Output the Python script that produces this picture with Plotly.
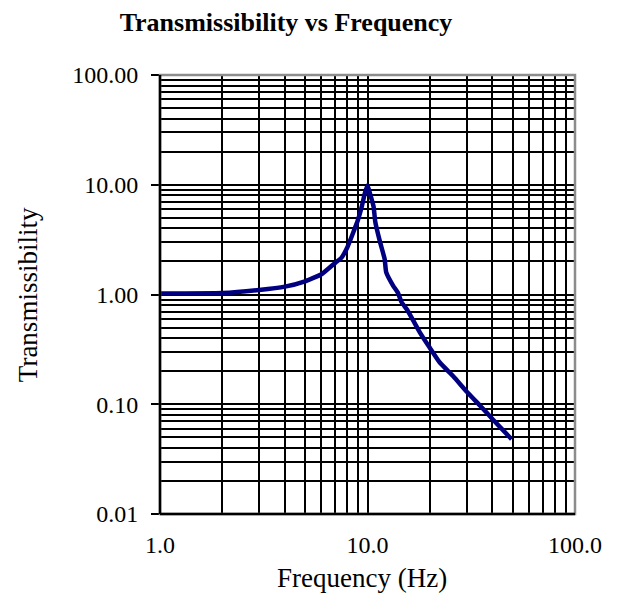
import plotly.graph_objects as go

# Data
freq_hz = [1.0, 2.0, 3.0, 4.0, 5.0, 6.0, 7.0, 7.5, 8.0, 8.5, 9.0, 9.4, 9.7, 10.0,
           10.3, 10.7, 10.9, 11.5, 12.1, 12.3, 13.3, 14.0, 14.6, 15.5, 16.6,
           17.9, 19.9, 22.3, 25.9, 30.1, 34.9, 40.4, 49.5]
transmissibility = [1.02, 1.03, 1.10, 1.18, 1.32, 1.53, 1.95, 2.17, 2.7, 3.6, 4.8, 6.4,
                    8.3, 9.9, 8.2, 6.3, 4.6, 3.0, 2.1, 1.6, 1.2, 1.04, 0.85, 0.73,
                    0.58, 0.45, 0.33, 0.24, 0.18, 0.13, 0.097, 0.072, 0.048]

x_major = [1, 10, 100]
x_major_text = ["1.0", "10.0", "100.0"]
y_major = [0.01, 0.1, 1, 10, 100]
y_major_text = ["0.01", "0.10", "1.00", "10.00", "100.00"]
x_minor = [m * d for d in [1, 10] for m in range(2, 10)]
y_minor = [m * d for d in [0.01, 0.1, 1, 10] for m in range(2, 10)]

FONT = "Liberation Serif, Times New Roman, serif"

fig = go.Figure()
fig.add_trace(go.Scatter(x=freq_hz, y=transmissibility, mode="lines",
                         line=dict(color="#000080", width=4.5, shape="spline", smoothing=0.4),
                         showlegend=False, hoverinfo="skip"))

fig.update_layout(
    width=624, height=594,
    margin=dict(l=160, r=49, t=75, b=80),
    paper_bgcolor="white", plot_bgcolor="white",
    font=dict(family=FONT, size=24, color="black"),
    title=dict(text="<b>Transmissibility vs Frequency</b>", x=286 / 624, xanchor="center",
               xref="container", y=1 - 22 / 594, yanchor="middle", yref="container",
               font=dict(family=FONT, size=26, color="black")),
    xaxis=dict(type="log", range=[0, 2], tickmode="array", tickvals=x_major,
               ticktext=x_major_text, showgrid=True, gridcolor="black", gridwidth=2,
               ticks="", showline=False, zeroline=False, ticklabelstandoff=14,
               tickfont=dict(family=FONT, size=24, color="black"),
               minor=dict(tickmode="array", tickvals=x_minor, showgrid=True,
                          gridcolor="black", gridwidth=2, ticks="")),
    yaxis=dict(type="log", range=[-2, 2], tickmode="array", tickvals=y_major,
               ticktext=y_major_text, showgrid=True, gridcolor="black", gridwidth=2,
               ticks="outside", ticklen=8, tickwidth=2, tickcolor="black",
               showline=False, zeroline=False, ticklabelstandoff=8,
               tickfont=dict(family=FONT, size=24, color="black"),
               minor=dict(tickmode="array", tickvals=y_minor, showgrid=True,
                          gridcolor="black", gridwidth=2, ticks="")),
)

# Plot border: gray frame, black left/bottom axis lines
fig.add_shape(type="rect", xref="paper", yref="paper", x0=0, y0=0, x1=1, y1=1,
              line=dict(color="#8c8c8c", width=2.5), layer="above")
fig.add_shape(type="line", xref="paper", yref="paper", x0=0, y0=0, x1=0, y1=1,
              line=dict(color="black", width=2.5), layer="above")
fig.add_shape(type="line", xref="paper", yref="paper", x0=0, y0=0, x1=1, y1=0,
              line=dict(color="black", width=2.5), layer="above")

fig.add_annotation(text="Transmissibility", xref="paper", yref="paper",
                   x=(28 - 160) / 415, y=(514 - 295) / 439.3, textangle=-90,
                   showarrow=False, xanchor="center", yanchor="middle",
                   font=dict(family=FONT, size=27, color="black"))
fig.add_annotation(text="Frequency (Hz)", xref="paper", yref="paper",
                   x=(362 - 160) / 415, y=(514 - 578) / 439.3,
                   showarrow=False, xanchor="center", yanchor="middle",
                   font=dict(family=FONT, size=27, color="black"))

fig.write_html("out.html")
